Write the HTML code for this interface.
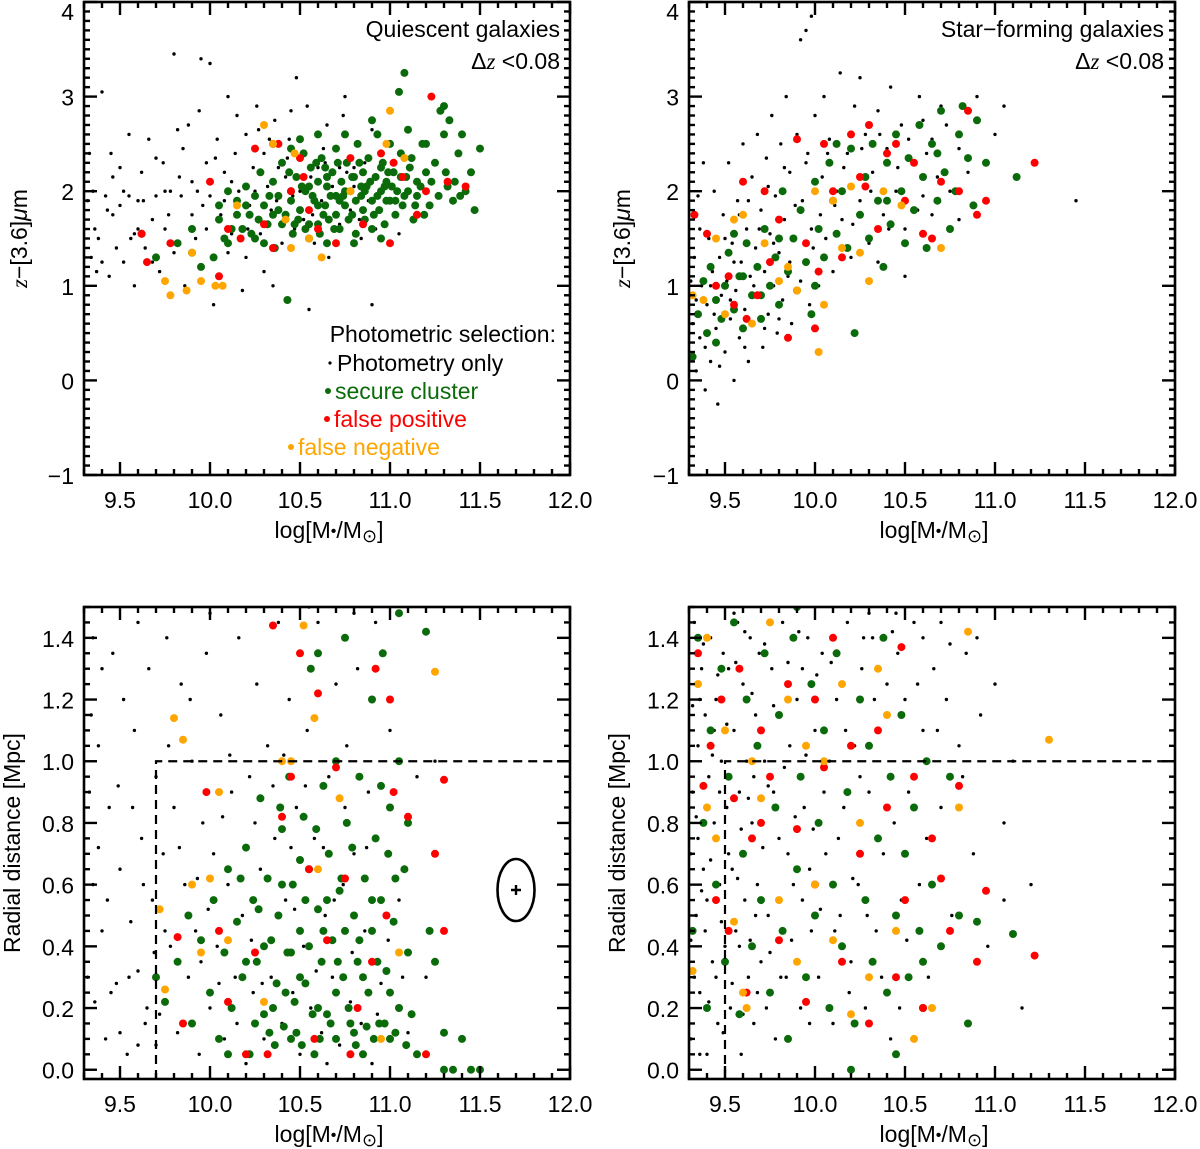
<!DOCTYPE html>
<html><head><meta charset="utf-8"><style>
body{margin:0;background:#fff;}
svg{display:block;font-family:"Liberation Sans",sans-serif;}
</style></head><body>
<svg id="fig" width="1200" height="1149" viewBox="0 0 1200 1149" xmlns="http://www.w3.org/2000/svg"></svg>
<script>
// ---------- DATA ----------
const xTicks = [9.5, 10.0, 10.5, 11.0, 11.5, 12.0];
const xTickLabels = ["9.5", "10.0", "10.5", "11.0", "11.5", "12.0"];
const colorTicks = [-1, 0, 1, 2, 3, 4];
const colorTickLabels = ["\u22121", "0", "1", "2", "3", "4"];
const radTicks = [0, 0.2, 0.4, 0.6, 0.8, 1.0, 1.2, 1.4];
const radTickLabels = ["0.0", "0.2", "0.4", "0.6", "0.8", "1.0", "1.2", "1.4"];

// Top-left: quiescent, color vs mass
const tlBlack = [9.32,1.9,9.34,1.3,9.35,2.0,9.36,1.6,9.38,1.5,9.4,1.25,9.4,3.05,9.42,1.95,9.44,1.1,9.45,2.4,9.46,1.75,9.48,1.4,9.5,2.25,9.5,1.85,9.52,1.25,9.55,2.6,9.56,1.5,9.58,1.0,9.6,1.9,9.62,2.2,9.64,1.4,9.66,2.55,9.68,1.7,9.7,1.95,9.72,1.15,9.74,2.3,9.75,1.6,9.78,2.0,9.8,3.45,9.8,1.35,9.82,2.65,9.84,1.95,9.86,1.0,9.88,2.7,9.9,2.1,9.92,1.5,9.94,2.85,9.95,3.4,9.96,1.85,9.98,2.3,10.0,3.35,10.0,1.95,10.02,0.8,10.04,2.55,10.06,1.75,10.08,2.2,10.1,3.0,10.12,1.55,10.14,2.4,10.16,2.0,10.18,0.95,10.2,2.6,10.22,1.85,10.24,2.25,10.26,2.9,10.28,1.55,10.3,2.4,10.32,2.05,10.34,1.8,10.36,2.75,10.38,2.25,10.4,1.65,10.42,2.15,10.44,2.55,10.46,1.95,10.48,3.2,10.5,2.35,10.52,1.7,10.54,2.9,10.56,2.15,10.58,1.45,10.6,2.6,10.62,1.9,10.64,2.3,10.66,1.3,10.68,2.05,10.7,2.45,10.72,1.65,10.74,2.8,10.76,2.2,10.78,1.8,10.8,2.05,10.82,2.5,10.84,1.5,10.86,2.3,10.88,1.9,10.9,2.65,10.92,1.6,10.95,2.4,11.0,2.05,11.05,1.55,11.1,2.25,10.55,0.75,10.35,1.0,10.2,1.3,10.3,1.15,10.9,0.8,9.58,1.55,9.46,2.15,9.68,1.25,9.9,1.75,10.1,1.35,10.25,2.0,10.45,2.85,10.65,2.7,10.75,3.0,10.7,1.45,10.8,2.25,10.6,2.25,10.5,2.0,10.4,1.45,10.15,2.8,9.85,2.45,9.75,2.0,9.63,1.9,9.55,1.95,9.33,2.4,9.37,1.15,9.43,1.8,9.52,2.0,9.6,1.6,9.7,2.35,9.77,1.75,9.83,2.15,9.93,2.0,10.03,2.35,10.12,2.1,10.21,1.6,10.33,2.55,10.37,1.9,10.47,1.6,10.57,1.75,10.63,2.45,10.72,2.25,10.83,1.7,10.93,2.15,11.02,1.75,10.27,2.65,10.43,2.35,9.98,1.6,10.08,1.9];
const tlGreen = [9.62,1.55,9.7,1.3,9.82,1.45,9.9,1.6,9.95,1.2,10.02,1.3,10.05,1.7,10.1,1.45,10.15,1.9,10.18,1.6,10.2,2.05,10.22,1.75,10.25,1.5,10.28,2.2,10.3,1.85,10.32,1.65,10.35,2.1,10.36,1.4,10.38,1.95,10.4,2.3,10.42,1.75,10.43,0.85,10.45,2.0,10.46,1.55,10.48,2.15,10.5,1.8,10.52,2.4,10.53,2.0,10.55,1.65,10.56,2.25,10.58,1.9,10.6,2.1,10.61,1.55,10.62,2.35,10.64,1.85,10.65,2.05,10.66,1.7,10.68,2.2,10.7,1.95,10.7,2.45,10.72,1.6,10.73,2.1,10.75,1.85,10.76,2.3,10.78,2.0,10.79,1.75,10.8,2.15,10.81,1.55,10.82,2.5,10.84,1.95,10.85,2.2,10.86,1.7,10.87,2.05,10.88,2.35,10.9,1.9,10.9,1.6,10.92,2.15,10.93,2.6,10.94,1.8,10.95,2.0,10.96,2.3,10.97,1.65,10.98,2.1,11.0,1.9,11.0,2.5,11.02,2.2,11.03,1.75,11.04,2.0,11.05,3.05,11.06,2.4,11.07,1.85,11.08,3.25,11.09,2.15,11.1,2.0,11.12,2.35,11.13,1.7,11.15,1.95,11.18,2.5,11.2,2.2,11.22,1.85,11.25,2.3,11.28,2.85,11.3,2.6,11.32,2.05,11.33,2.75,11.35,1.9,11.38,2.4,11.4,2.6,11.42,2.0,11.45,2.2,11.5,2.45,11.47,1.8,11.3,2.9,11.2,2.5,11.1,2.65,10.9,2.75,10.75,2.6,10.6,2.6,10.5,2.55,10.35,2.5,10.45,2.45,10.55,1.5,10.65,1.45,10.8,1.45,10.95,1.5,10.6,1.65,10.7,1.75,10.85,1.8,10.75,2.0,10.65,2.15,10.55,2.05,10.45,1.9,10.4,1.65,10.25,1.95,10.15,1.75,10.1,2.0,10.05,1.85,9.9,1.35,10.3,1.45,10.6,1.85,10.95,2.25,11.15,2.1,10.98,1.9,10.33,1.95,10.38,1.8,10.44,2.2,10.49,1.7,10.51,2.05,10.57,1.95,10.59,2.3,10.63,1.75,10.67,1.95,10.69,1.6,10.71,2.3,10.74,1.95,10.77,1.7,10.79,2.15,10.81,1.9,10.83,2.3,10.86,2.0,10.89,2.1,10.91,1.75,10.93,1.95,10.97,2.05,10.99,2.2,11.01,2.05,11.03,1.9,11.06,2.15,11.08,1.95,11.11,2.25,11.14,1.85,11.17,2.05,11.19,1.75,11.23,2.1,11.27,1.95,11.31,2.2,11.36,2.1,11.39,1.95,10.27,1.7,10.23,1.55,10.2,1.85,10.12,1.6,10.08,1.5,10.35,1.75,10.47,1.65,10.53,1.6,10.64,2.25,10.72,1.9,10.84,2.05];
const tlRed = [9.62,1.55,9.65,1.25,9.78,1.45,10.0,2.1,10.05,1.1,10.1,1.6,10.17,1.5,10.25,2.45,10.3,1.65,10.38,2.5,10.45,2.0,10.52,2.15,10.55,1.8,10.6,1.6,10.7,1.45,10.78,2.35,10.85,1.65,10.95,2.4,11.0,1.45,11.02,2.3,11.07,2.15,11.15,1.75,11.2,2.0,11.23,3.0,11.32,2.1,11.42,2.05,10.35,1.4,10.5,2.35];
const tlOrange = [9.75,1.05,9.78,0.9,9.87,0.95,9.9,1.35,10.03,1.0,10.07,1.0,10.15,1.85,10.3,2.7,10.35,2.5,10.42,1.7,10.45,1.4,10.55,1.5,10.62,1.3,10.78,2.0,10.98,2.5,11.0,2.85,11.08,2.35,10.47,2.4,9.95,1.05];

// Top-right: star-forming, color vs mass
const trBlack = [9.32,0.6,9.33,1.3,9.34,0.1,9.35,1.95,9.36,0.45,9.37,1.0,9.38,2.3,9.39,-0.1,9.4,0.8,9.41,1.5,9.42,0.2,9.43,1.15,9.44,2.0,9.45,0.55,9.46,-0.25,9.47,1.3,9.48,0.9,9.49,1.75,9.5,0.3,9.51,1.05,9.52,2.3,9.53,0.65,9.54,1.45,9.55,0.0,9.56,0.95,9.57,1.9,9.58,0.45,9.59,1.25,9.6,2.5,9.61,0.75,9.62,1.6,9.63,0.2,9.64,1.1,9.65,2.15,9.66,0.6,9.67,1.4,9.68,2.6,9.69,0.9,9.7,1.8,9.71,0.35,9.72,1.15,9.73,2.35,9.74,0.7,9.75,1.55,9.76,2.8,9.77,1.0,9.78,1.95,9.79,0.5,9.8,1.35,9.81,2.5,9.82,0.85,9.83,1.7,9.84,3.0,9.85,1.1,9.86,2.2,9.87,0.6,9.88,1.5,9.9,2.6,9.91,0.95,9.92,3.6,9.93,1.9,9.95,1.25,9.96,2.4,9.97,0.8,9.98,1.6,10.0,2.8,10.02,1.0,10.04,2.15,10.05,3.0,10.06,1.5,10.08,2.55,10.1,1.15,10.12,2.0,10.14,3.25,10.15,1.7,10.18,2.4,10.2,1.3,10.22,2.9,10.25,1.9,10.28,2.6,10.3,1.45,10.32,2.2,10.35,2.85,10.38,1.75,10.4,2.45,10.42,3.1,10.45,2.0,10.48,2.7,10.5,1.6,10.55,2.3,10.58,3.0,10.6,1.95,10.65,2.55,10.7,2.9,10.75,2.0,10.8,2.45,10.9,3.0,11.0,2.6,11.05,2.9,11.45,1.9,10.8,1.7,10.65,1.75,10.5,1.1,10.35,1.25,10.6,2.75,9.98,3.85,9.95,3.7,10.25,3.2,9.31,1.05,9.34,0.85,9.36,1.6,9.39,0.35,9.42,1.0,9.44,0.7,9.47,0.15,9.5,1.5,9.53,0.85,9.55,1.25,9.58,1.75,9.61,0.35,9.63,1.9,9.66,1.0,9.69,1.6,9.72,0.55,9.74,2.05,9.77,1.45,9.8,0.65,9.83,2.25,9.86,1.25,9.89,1.85,9.92,1.05,9.95,2.3,9.99,1.4,10.03,1.75,10.07,2.4,10.11,1.85,10.16,2.25,10.21,1.65,10.26,2.45,10.31,2.0,10.36,2.6,10.41,1.6,10.46,2.25,10.52,2.55,10.57,1.8,10.62,2.4,10.68,2.15,10.73,2.7,10.85,2.2];
const trGreen = [9.32,0.25,9.35,0.7,9.38,1.05,9.4,0.5,9.42,1.2,9.45,0.85,9.48,0.65,9.5,1.0,9.52,1.35,9.55,0.75,9.58,1.1,9.6,0.55,9.62,1.45,9.65,0.9,9.68,1.2,9.7,0.65,9.72,1.6,9.75,1.0,9.78,1.3,9.8,0.8,9.82,2.0,9.85,1.15,9.88,1.5,9.9,0.95,9.92,1.8,9.95,1.25,9.98,0.7,10.0,2.1,10.02,1.6,10.05,1.3,10.08,2.3,10.1,1.9,10.12,1.55,10.15,2.0,10.18,1.4,10.2,2.45,10.22,0.5,10.25,1.75,10.28,2.15,10.3,1.5,10.32,2.5,10.35,1.9,10.38,1.2,10.4,2.3,10.42,1.65,10.45,2.6,10.48,2.0,10.5,1.45,10.52,2.35,10.55,1.8,10.58,2.7,10.6,2.15,10.62,1.4,10.65,2.5,10.68,1.9,10.7,2.85,10.72,2.2,10.75,1.6,10.78,2.0,10.8,2.6,10.82,2.9,10.85,2.35,10.88,1.85,10.9,2.75,10.95,2.3,11.12,2.15,10.12,2.5,9.7,0.9,9.6,1.1,9.45,0.4,9.55,1.55,9.8,1.5,10.0,1.0,10.4,1.9,10.68,2.4];
const trRed = [9.33,1.75,9.4,1.55,9.45,1.0,9.52,1.1,9.55,0.8,9.6,2.1,9.62,0.65,9.68,0.9,9.72,2.0,9.75,1.25,9.8,1.7,9.85,0.45,9.9,2.55,9.95,1.45,10.0,0.55,10.02,1.15,10.05,2.5,10.1,2.0,10.15,1.3,10.2,2.6,10.25,2.15,10.3,2.7,10.35,1.6,10.4,2.4,10.45,2.5,10.5,1.9,10.55,2.3,10.6,1.55,10.65,1.5,10.7,2.1,10.8,2.0,10.85,2.85,10.9,1.75,10.95,1.9,11.22,2.3,10.28,2.05];
const trOrange = [9.32,0.9,9.38,0.85,9.45,1.5,9.5,0.7,9.55,1.7,9.6,1.75,9.65,0.6,9.72,1.45,9.8,1.05,9.85,1.2,9.9,0.95,10.0,2.0,10.02,0.3,10.05,0.8,10.1,1.9,10.15,1.4,10.2,2.05,10.25,1.35,10.3,1.05,10.38,2.0,10.48,1.85,10.7,1.4];

// Bottom-left: quiescent, radial distance vs mass
const blBlack = [9.32,0.3,9.34,1.15,9.35,0.6,9.36,0.22,9.38,1.05,9.4,0.45,9.42,0.1,9.44,0.85,9.46,1.35,9.48,0.28,9.5,0.65,9.52,1.2,9.54,0.05,9.56,0.48,9.58,1.1,9.6,0.32,9.62,0.75,9.64,0.15,9.66,1.3,9.68,0.55,9.7,0.95,9.72,0.18,9.74,0.7,9.76,1.4,9.78,0.4,9.8,0.85,9.82,0.12,9.84,1.25,9.86,0.6,9.88,0.3,9.9,1.0,9.92,0.45,9.94,0.05,9.96,0.8,9.98,1.35,10.0,0.2,10.02,0.7,10.04,0.4,10.06,1.15,10.08,0.1,10.1,0.6,10.12,0.9,10.14,0.3,10.16,1.4,10.18,0.5,10.2,0.02,10.22,0.95,10.24,0.25,10.26,1.25,10.28,0.65,10.3,0.1,10.32,1.05,10.34,0.3,10.36,0.75,10.38,1.45,10.4,0.15,10.42,0.55,10.44,1.2,10.46,0.25,10.48,0.85,10.5,0.05,10.52,0.4,10.54,1.1,10.56,0.2,10.58,0.75,10.6,1.45,10.62,0.12,10.64,0.5,10.66,0.95,10.68,0.3,10.7,1.25,10.72,0.08,10.74,0.6,10.76,1.05,10.78,0.22,10.8,0.7,10.82,1.3,10.84,0.15,10.86,0.45,10.88,0.9,10.9,0.02,10.92,1.45,10.95,0.28,11.0,1.1,11.05,0.55,11.1,0.12,11.15,0.95,11.2,0.3,11.25,1.0,9.45,0.25,9.5,0.12,9.55,0.3,9.6,0.08,9.65,0.2,9.7,0.08,9.75,0.45,9.35,1.4,9.4,1.3,9.6,1.45,9.8,1.5,10.0,1.48,10.3,1.5,10.55,1.5,10.8,1.48,9.95,0.35,10.05,0.28,10.15,0.15,10.25,0.8,10.45,0.72,10.65,0.02,9.33,0.9,9.38,0.72,9.43,0.55,9.49,0.92,9.57,0.85,9.63,0.6,9.69,0.38,9.77,1.05,9.83,0.72,9.89,1.2,9.93,0.62,9.99,0.52,10.07,0.82,10.11,1.02,10.19,0.72,10.23,0.42,10.29,0.28,10.35,0.92,10.41,1.02,10.47,0.52,10.53,0.92,10.59,0.32,10.63,0.72,10.69,0.55,10.75,0.85,10.79,0.38,10.87,0.72,10.93,0.18,10.99,0.42,11.07,0.3];
const blGreen = [9.7,0.3,9.75,0.22,9.82,0.35,9.88,0.5,9.9,0.15,9.95,0.42,10.0,0.25,10.02,0.55,10.05,0.1,10.08,0.38,10.1,0.65,10.12,0.2,10.15,0.48,10.18,0.3,10.2,0.72,10.22,0.05,10.24,0.55,10.26,0.35,10.28,0.88,10.3,0.18,10.32,0.62,10.34,0.42,10.36,0.08,10.38,0.5,10.4,0.78,10.42,0.25,10.44,0.95,10.45,0.38,10.46,0.6,10.48,0.12,10.5,0.45,10.52,0.82,10.53,0.28,10.55,0.65,10.56,1.3,10.58,0.05,10.6,0.52,10.62,0.35,10.63,0.92,10.65,0.18,10.66,0.7,10.68,0.42,10.7,1.0,10.7,0.1,10.72,0.58,10.74,0.3,10.75,1.4,10.76,0.8,10.78,0.15,10.8,0.5,10.82,0.35,10.83,0.95,10.85,0.05,10.86,0.62,10.88,0.25,10.9,1.2,10.9,0.45,10.92,0.75,10.94,0.15,10.95,0.55,10.96,1.35,10.98,0.32,11.0,0.85,11.0,0.1,11.02,0.48,11.05,1.48,11.05,0.2,11.08,0.65,11.1,0.38,11.12,0.18,11.15,0.05,11.2,1.42,11.22,0.45,11.25,0.35,11.3,0.12,11.4,0.1,11.45,0.0,11.3,0.0,11.35,0.0,11.5,0.0,11.05,1.0,10.95,0.92,10.6,1.35,10.5,0.3,10.35,0.2,10.25,0.15,10.45,0.1,10.6,0.2,10.8,0.12,10.7,0.25,10.9,0.55,10.55,0.4,10.4,0.6,10.3,0.4,10.65,0.55,10.75,0.45,10.85,0.3,11.0,0.25,11.1,0.8,10.5,0.68,10.2,0.35,10.1,0.05,10.33,0.12,10.37,0.28,10.41,0.14,10.47,0.22,10.51,0.08,10.57,0.18,10.61,0.1,10.67,0.15,10.71,0.35,10.77,0.2,10.81,0.08,10.87,0.14,10.91,0.1,10.97,0.15,11.03,0.12,11.09,0.08,10.43,0.38,10.53,0.55,10.63,0.45,10.73,0.62,10.83,0.42,10.93,0.35,11.03,0.62,10.39,0.85,10.59,0.78,10.79,0.72,10.99,0.7,10.27,0.52,10.17,0.62];
const blRed = [9.82,0.43,9.85,0.15,9.98,0.9,10.05,0.45,10.1,0.22,10.2,0.05,10.25,0.38,10.32,0.05,10.35,1.44,10.4,0.82,10.45,0.95,10.5,1.35,10.55,0.65,10.58,0.1,10.6,1.22,10.65,0.42,10.7,0.98,10.75,0.62,10.78,0.05,10.82,0.2,10.9,0.35,10.92,1.3,10.98,0.5,11.0,1.2,11.02,0.9,11.1,0.82,11.2,0.05,11.25,0.7,11.3,0.45,11.3,0.94];
const blOrange = [9.72,0.52,9.75,0.26,9.8,1.14,9.85,1.07,9.9,0.6,9.95,0.38,10.0,0.62,10.05,0.9,10.1,0.42,10.4,1.0,10.45,1.0,10.58,1.14,10.6,0.65,10.72,0.88,10.95,0.1,11.05,0.38,11.25,1.29,10.52,1.44,10.3,0.22];

// Bottom-right: star-forming, radial distance vs mass
const brBlack = [9.31,0.1,9.32,0.9,9.33,1.45,9.34,0.5,9.35,1.05,9.36,0.25,9.37,1.3,9.38,0.65,9.39,1.15,9.4,0.05,9.41,0.95,9.42,1.4,9.43,0.35,9.44,0.8,9.45,1.2,9.46,0.15,9.47,0.6,9.48,1.0,9.49,1.35,9.5,0.4,9.31,0.7,9.33,0.3,9.36,1.2,9.39,0.45,9.44,1.1,9.47,0.9,9.3,1.3,9.35,0.75,9.4,0.55,9.45,0.3,9.51,0.85,9.52,1.3,9.53,0.2,9.54,0.65,9.55,1.1,9.56,0.45,9.57,1.45,9.58,0.9,9.59,0.05,9.6,1.25,9.61,0.55,9.62,1.0,9.63,0.3,9.64,1.4,9.65,0.8,9.66,0.15,9.67,1.15,9.68,0.6,9.69,1.35,9.7,0.35,9.52,0.7,9.55,1.48,9.58,0.4,9.62,1.2,9.66,0.95,9.68,0.25,9.72,1.0,9.74,0.5,9.76,1.3,9.78,0.1,9.8,0.75,9.82,1.45,9.84,0.3,9.86,1.05,9.88,0.6,9.9,1.2,9.92,0.2,9.94,0.85,9.96,1.4,9.98,0.45,10.0,1.1,9.73,0.2,9.77,0.9,9.81,1.15,9.85,0.7,9.89,0.35,9.93,1.3,9.97,0.65,10.02,0.3,10.04,1.35,10.06,0.7,10.08,1.0,10.1,0.15,10.12,1.2,10.14,0.5,10.16,0.85,10.18,1.45,10.2,0.35,10.22,1.05,10.24,0.6,10.26,1.3,10.28,0.2,10.3,0.9,10.32,1.4,10.34,0.45,10.36,1.1,10.38,0.7,10.4,1.25,10.42,0.1,10.44,0.8,10.46,1.35,10.48,0.55,10.5,1.2,10.52,0.9,10.55,1.45,10.58,0.6,10.6,1.1,10.63,0.3,10.66,1.3,10.7,0.85,10.73,1.2,10.76,0.5,10.8,1.05,10.84,1.35,10.88,0.7,10.92,1.15,10.96,0.4,11.0,1.25,11.05,0.8,11.1,1.0,11.15,0.2,11.2,0.6,10.7,1.45,10.9,1.4,10.6,1.4,10.45,1.48,10.3,1.48,11.05,0.55,9.31,0.42,9.32,1.18,9.34,0.82,9.36,0.05,9.37,0.58,9.38,1.38,9.41,0.22,9.42,0.68,9.43,1.02,9.46,1.28,9.48,0.48,9.49,0.12,9.51,1.12,9.53,0.95,9.54,0.28,9.56,1.32,9.57,0.62,9.59,0.78,9.6,0.18,9.61,1.42,9.63,0.88,9.64,0.42,9.65,1.22,9.67,0.5,9.69,1.05,9.71,0.72,9.72,1.38,9.74,0.92,9.75,0.38,9.77,1.18,9.79,0.55,9.81,0.3,9.83,0.98,9.85,1.32,9.87,0.42,9.89,0.82,9.91,1.42,9.93,0.55,9.95,1.02,9.97,0.15,9.99,0.78,10.01,1.28,10.03,0.52,10.05,0.9,10.09,1.32,10.11,0.45,10.13,0.75,10.17,1.1,10.19,0.25,10.21,0.62,10.25,0.95,10.27,1.4,10.29,0.5,10.33,1.2,10.37,0.3,10.41,0.95,10.43,1.42,10.47,0.2,10.51,0.42,10.57,1.25,10.62,0.75,10.68,1.1,10.75,1.38,10.82,0.95];
const brGreen = [9.32,0.45,9.35,1.4,9.38,0.8,9.4,0.2,9.42,1.1,9.45,0.6,9.48,1.3,9.5,0.35,9.52,0.95,9.55,1.45,9.58,0.18,9.6,0.7,9.62,1.2,9.65,0.4,9.68,1.05,9.7,0.55,9.72,1.35,9.75,0.25,9.78,0.85,9.8,1.15,9.82,0.45,9.85,0.1,9.88,1.4,9.9,0.65,9.92,0.95,9.95,0.3,9.98,1.25,10.0,0.5,10.02,0.8,10.05,1.1,10.08,0.2,10.1,0.6,10.12,1.35,10.15,0.4,10.18,0.9,10.2,0.0,10.22,0.15,10.25,1.2,10.28,0.55,10.3,1.05,10.32,0.35,10.35,0.75,10.38,1.4,10.4,0.25,10.42,0.95,10.45,0.5,10.48,1.15,10.5,0.7,10.52,0.3,10.55,0.85,10.58,0.45,10.6,0.2,10.62,1.0,10.65,0.6,10.7,0.4,10.75,0.95,10.8,0.5,10.85,0.15,10.9,0.48,11.1,0.44,9.9,1.5,10.6,0.35,10.45,0.05];
const brRed = [9.35,1.35,9.38,0.92,9.42,1.05,9.45,0.55,9.48,1.2,9.52,0.45,9.55,0.88,9.58,1.3,9.62,0.25,9.65,0.75,9.7,1.1,9.75,0.95,9.8,0.42,9.85,1.25,9.9,0.78,9.95,0.22,10.0,0.6,10.05,0.98,10.1,1.4,10.15,0.35,10.2,1.05,10.25,0.7,10.3,0.15,10.35,1.1,10.4,0.85,10.45,0.3,10.48,1.37,10.5,0.55,10.55,0.95,10.6,0.2,10.65,0.75,10.7,0.62,10.75,0.45,10.8,0.92,10.9,0.35,10.95,0.58,11.22,0.37,9.7,0.8,10.0,1.2];
const brOrange = [9.32,0.32,9.35,1.25,9.4,0.85,9.45,0.75,9.5,1.1,9.55,0.48,9.6,0.25,9.62,0.2,9.65,1.0,9.7,0.88,9.75,1.45,9.8,0.55,9.85,1.2,9.9,0.35,9.95,1.05,10.0,0.6,10.05,1.0,10.1,0.42,10.15,1.25,10.2,0.18,10.25,0.8,10.3,0.3,10.35,1.3,10.4,1.15,10.45,0.45,10.55,0.1,10.65,0.2,10.8,0.85,10.85,1.42,11.3,1.07,9.4,1.4];

// ---------- DRAWING ----------
const NS = "http://www.w3.org/2000/svg";
const svg = document.getElementById("fig");
function mk(tag, attrs, parent) {
  const e = document.createElementNS(NS, tag);
  for (const k in attrs) e.setAttribute(k, attrs[k]);
  (parent || svg).appendChild(e);
  return e;
}
const COL = {black:"#000", green:"#0b6b0b", red:"#ff0000", orange:"#ffa500"};

function panel(p) {
  const g = mk("g", {});
  
  
  const sx = v => p.L + (v - 9.3) / (12.0 - 9.3) * (p.R - p.L);
  const sy = v => p.B - (v - p.y0) / (p.y1 - p.y0) * (p.B - p.T);
  const cid = "clip-" + p.name;
  const cp = mk("clipPath", {id: cid}, g);
  mk("rect", {x: p.L, y: p.T, width: p.R - p.L, height: p.B - p.T}, cp);
  const pts = mk("g", {"clip-path": "url(#" + cid + ")"}, g);
  
  
  const series = [["black", p.black, 1.7], ["green", p.green, 4.0], ["red", p.red, 4.0], ["orange", p.orange, 4.0]];
  series.forEach(([c, arr, r]) => {
    for (let i = 0; i < arr.length; i += 2) {
      const d = mk("circle", {cx: sx(arr[i]).toFixed(1), cy: sy(arr[i+1]).toFixed(1), r: r, fill: COL[c]}, pts);
      
      
    }
  });
  if (p.dashX !== undefined) {
    const dl = mk("path", {d: `M${sx(p.dashX)},${p.B} L${sx(p.dashX)},${sy(1.0)} L${p.R},${sy(1.0)}`, fill: "none", stroke: "#000", "stroke-width": 2.2, "stroke-dasharray": "9,6"}, g);
    
    
  }
  const box = mk("rect", {x: p.L, y: p.T, width: p.R - p.L, height: p.B - p.T, fill: "none", stroke: "#000", "stroke-width": 2.6}, g);
  
  
  for (let v = 9.3; v <= 12.001; v += 0.1) {
    const vv = Math.round(v * 10) / 10;
    const major = Math.abs(vv * 2 - Math.round(vv * 2)) < 1e-6;
    const len = major ? 13 : 6;
    const x = sx(vv);
    mk("line", {x1: x, y1: p.B, x2: x, y2: p.B - len, stroke: "#000", "stroke-width": 2.4}, g);
    mk("line", {x1: x, y1: p.T, x2: x, y2: p.T + len, stroke: "#000", "stroke-width": 2.4}, g);
  }
  xTicks.forEach((v, i) => {
    const t = mk("text", {x: sx(v), y: p.B + 33, "font-size": 23, "text-anchor": "middle"}, g);
    t.textContent = xTickLabels[i];
    
    
  });
  const nMinor = Math.round((p.y1t - p.y0t) / p.minor);
  for (let k = 0; k <= nMinor + 2; k++) {
    const v = Math.round((p.y0t + k * p.minor) * 1000) / 1000;
    if (v > p.y1 + 1e-6) break;
    const major = Math.abs(v / p.major - Math.round(v / p.major)) < 1e-6;
    const len = major ? 13 : 6;
    const y = sy(v);
    mk("line", {x1: p.L, y1: y, x2: p.L + len, y2: y, stroke: "#000", "stroke-width": 2.4}, g);
    mk("line", {x1: p.R, y1: y, x2: p.R - len, y2: y, stroke: "#000", "stroke-width": 2.4}, g);
  }
  p.yTicks.forEach((v, i) => {
    const t = mk("text", {x: p.L - 10, y: Math.max(sy(v) + 9, 20), "font-size": 23, "text-anchor": "end"}, g);
    t.textContent = p.yLabels[i];
    
    
  });
  const xt = mk("text", {x: (p.L + p.R) / 2 + 2, y: p.B + 63, "font-size": 23, "text-anchor": "middle"}, g);
  xt.innerHTML = 'log[M<tspan font-size="16" dy="-2">\u2022</tspan><tspan dy="2">/M</tspan><tspan font-size="18" dy="4">\u2299</tspan><tspan dy="-4">]</tspan>';
  
  
  const yt = mk("text", {x: 0, y: 0, "font-size": 23, "text-anchor": "middle", transform: `translate(${p.ytx},${(p.T + p.B) / 2}) rotate(-90)`}, g);
  yt.innerHTML = p.ytitle;
  
  
  return {g, sx, sy};
}

const zTitle = '<tspan font-style="italic" font-family="Liberation Serif">z</tspan>\u2212[3.6]<tspan font-style="italic">\u03bc</tspan>m';
const colorCfg = {y0: -1, y1: 4, y0t: -1, y1t: 4, minor: 0.1, major: 1, yTicks: colorTicks, yLabels: colorTickLabels, ytitle: zTitle};
const radCfg = {y0: -0.03, y1: 1.5, y0t: 0, y1t: 1.5, minor: 0.05, major: 0.2, yTicks: radTicks, yLabels: radTickLabels, ytitle: 'Radial distance [Mpc]'};

panel(Object.assign({name: "panel-quiescent-color", L: 84, R: 570, T: 2, B: 475, ytx: 27, black: tlBlack, green: tlGreen, red: tlRed, orange: tlOrange}, colorCfg));
panel(Object.assign({name: "panel-starforming-color", L: 689, R: 1175, T: 2, B: 475, ytx: 630, black: trBlack, green: trGreen, red: trRed, orange: trOrange}, colorCfg));
panel(Object.assign({name: "panel-quiescent-radial", L: 84, R: 570, T: 607, B: 1079, ytx: 20, dashX: 9.7, black: blBlack, green: blGreen, red: blRed, orange: blOrange}, radCfg));
panel(Object.assign({name: "panel-starforming-radial", L: 689, R: 1175, T: 607, B: 1079, ytx: 625, dashX: 9.5, black: brBlack, green: brGreen, red: brRed, orange: brOrange}, radCfg));

function txt(x, y, s, anchor, color, name, parent) {
  const t = mk("text", {x: x, y: y, "font-size": 23, "text-anchor": anchor, fill: color || "#000"}, parent);
  t.innerHTML = s;
  
  
  return t;
}
txt(560, 37, "Quiescent galaxies", "end", "#000", "panel-title");
txt(560, 69, '\u0394<tspan font-style="italic" font-family="Liberation Serif">z</tspan> &lt;0.08', "end", "#000", "redshift-cut-label");
txt(1164, 37, "Star\u2212forming galaxies", "end", "#000", "panel-title");
txt(1164, 69, '\u0394<tspan font-style="italic" font-family="Liberation Serif">z</tspan> &lt;0.08', "end", "#000", "redshift-cut-label");

const leg = mk("g", {});


txt(556, 342, "Photometric selection:", "end", "#000", "legend-title", leg);
const legItems = [["Photometry only", COL.black, 330, 371, 1.6], ["secure cluster", COL.green, 328, 399, 3], ["false positive", COL.red, 327, 427, 3], ["false negative", COL.orange, 291, 455, 3]];
legItems.forEach(([lab, c, x, y, r]) => {
  const d = mk("circle", {cx: x, cy: y - 8, r: r, fill: c}, leg);
  
  
  txt(x + 7, y, lab, "start", c, "legend-entry", leg);
});

const eg = mk("g", {});


mk("ellipse", {cx: 516, cy: 890, rx: 18.5, ry: 31, fill: "none", stroke: "#000", "stroke-width": 2.6}, eg);
mk("path", {d: "M511,890 L521,890 M516,885 L516,895", stroke: "#000", "stroke-width": 2.4}, eg);
</script>
</body></html>
